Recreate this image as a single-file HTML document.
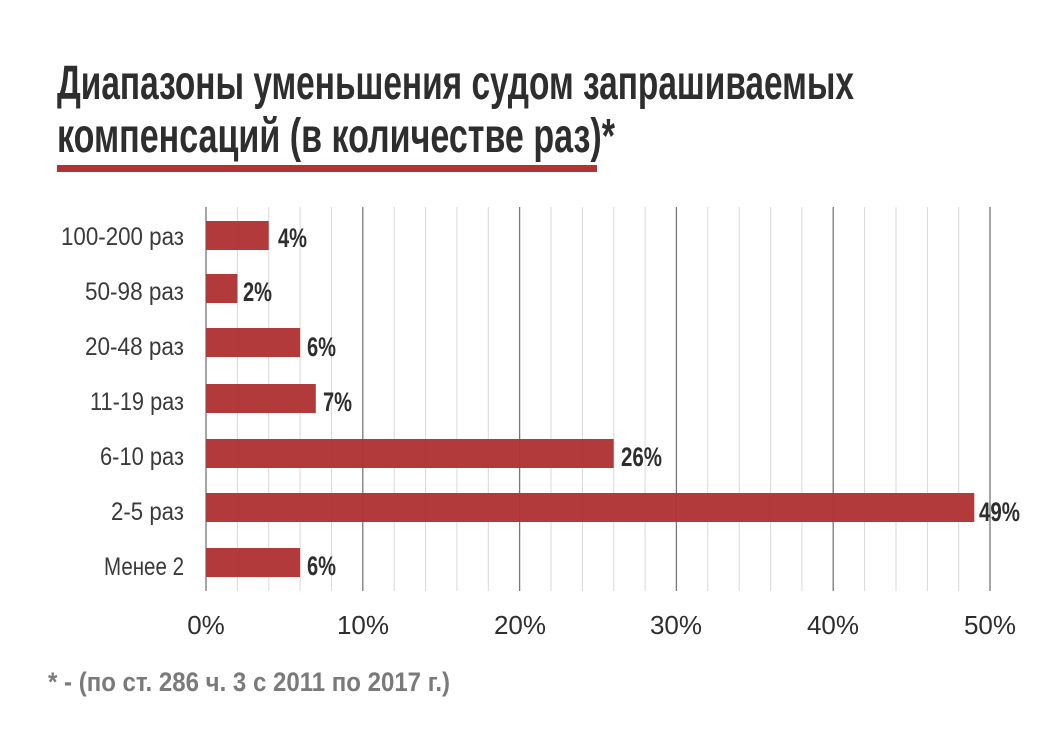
<!DOCTYPE html>
<html><head><meta charset="utf-8"><style>html,body{margin:0;padding:0;background:#fff}svg{display:block}</style></head>
<body>
<svg width="1060" height="732" xmlns="http://www.w3.org/2000/svg">
<rect width="1060" height="732" fill="#fff"/>
<g font-family="Liberation Sans, sans-serif" font-weight="bold" fill="#2e2e2e" font-size="48">
<text x="57" y="99" textLength="797" lengthAdjust="spacingAndGlyphs">Диапазоны уменьшения судом запрашиваемых</text>
<text x="57" y="152" textLength="558" lengthAdjust="spacingAndGlyphs">компенсаций (в количестве раз)*</text>
</g>
<rect x="57" y="165" width="540" height="7" fill="#b03434"/>
<g stroke="#d8d8d8" stroke-width="1">
<line x1="237.4" y1="207" x2="237.4" y2="591"/><line x1="268.7" y1="207" x2="268.7" y2="591"/><line x1="300.1" y1="207" x2="300.1" y2="591"/><line x1="331.5" y1="207" x2="331.5" y2="591"/>
<line x1="394.2" y1="207" x2="394.2" y2="591"/><line x1="425.6" y1="207" x2="425.6" y2="591"/><line x1="456.9" y1="207" x2="456.9" y2="591"/><line x1="488.3" y1="207" x2="488.3" y2="591"/>
<line x1="551" y1="207" x2="551" y2="591"/><line x1="582.4" y1="207" x2="582.4" y2="591"/><line x1="613.8" y1="207" x2="613.8" y2="591"/><line x1="645.1" y1="207" x2="645.1" y2="591"/>
<line x1="707.8" y1="207" x2="707.8" y2="591"/><line x1="739.2" y1="207" x2="739.2" y2="591"/><line x1="770.6" y1="207" x2="770.6" y2="591"/><line x1="801.9" y1="207" x2="801.9" y2="591"/>
<line x1="864.6" y1="207" x2="864.6" y2="591"/><line x1="896" y1="207" x2="896" y2="591"/><line x1="927.4" y1="207" x2="927.4" y2="591"/><line x1="958.7" y1="207" x2="958.7" y2="591"/>
</g>
<g stroke="#777" stroke-width="1.3">
<line x1="206" y1="207" x2="206" y2="591"/><line x1="362.8" y1="207" x2="362.8" y2="591"/><line x1="519.6" y1="207" x2="519.6" y2="591"/><line x1="676.4" y1="207" x2="676.4" y2="591"/><line x1="833.2" y1="207" x2="833.2" y2="591"/><line x1="990" y1="207" x2="990" y2="591"/>
</g>
<g fill="#b03434" fill-opacity="0.97">
<rect x="206" y="221" width="62.7" height="29"/>
<rect x="206" y="274" width="31.4" height="29"/>
<rect x="206" y="328" width="94.1" height="29"/>
<rect x="206" y="384" width="109.8" height="29"/>
<rect x="206" y="439" width="407.7" height="29"/>
<rect x="206" y="493" width="768.3" height="29"/>
<rect x="206" y="548" width="94.1" height="29"/>
</g>
<g font-family="Liberation Sans, sans-serif" font-weight="bold" fill="#2e2e2e" font-size="27">
<text x="278" y="247" textLength="29" lengthAdjust="spacingAndGlyphs">4%</text>
<text x="243" y="301" textLength="29" lengthAdjust="spacingAndGlyphs">2%</text>
<text x="307" y="356" textLength="29" lengthAdjust="spacingAndGlyphs">6%</text>
<text x="323" y="411" textLength="29" lengthAdjust="spacingAndGlyphs">7%</text>
<text x="621" y="466" textLength="41" lengthAdjust="spacingAndGlyphs">26%</text>
<text x="979" y="521" textLength="41" lengthAdjust="spacingAndGlyphs">49%</text>
<text x="307" y="575" textLength="29" lengthAdjust="spacingAndGlyphs">6%</text>
</g>
<g font-family="Liberation Sans, sans-serif" fill="#3a3a3a" font-size="25" text-anchor="end">
<text x="184" y="245" textLength="123" lengthAdjust="spacingAndGlyphs">100-200 раз</text>
<text x="184" y="300" textLength="99" lengthAdjust="spacingAndGlyphs">50-98 раз</text>
<text x="184" y="355" textLength="99" lengthAdjust="spacingAndGlyphs">20-48 раз</text>
<text x="184" y="410" textLength="94" lengthAdjust="spacingAndGlyphs">11-19 раз</text>
<text x="184" y="465" textLength="84" lengthAdjust="spacingAndGlyphs">6-10 раз</text>
<text x="184" y="520" textLength="73" lengthAdjust="spacingAndGlyphs">2-5 раз</text>
<text x="184" y="575" textLength="80" lengthAdjust="spacingAndGlyphs">Менее 2</text>
</g>
<g font-family="Liberation Sans, sans-serif" fill="#2e2e2e" font-size="26" text-anchor="middle">
<text x="206" y="634">0%</text><text x="363" y="634">10%</text><text x="520" y="634">20%</text><text x="676" y="634">30%</text><text x="833" y="634">40%</text><text x="990" y="634">50%</text>
</g>
<text x="48" y="691" font-family="Liberation Sans, sans-serif" font-weight="bold" fill="#7a7a7a" font-size="27" textLength="402" lengthAdjust="spacingAndGlyphs">* - (по ст. 286 ч. 3 с 2011 по 2017 г.)</text>
</svg>
</body></html>
